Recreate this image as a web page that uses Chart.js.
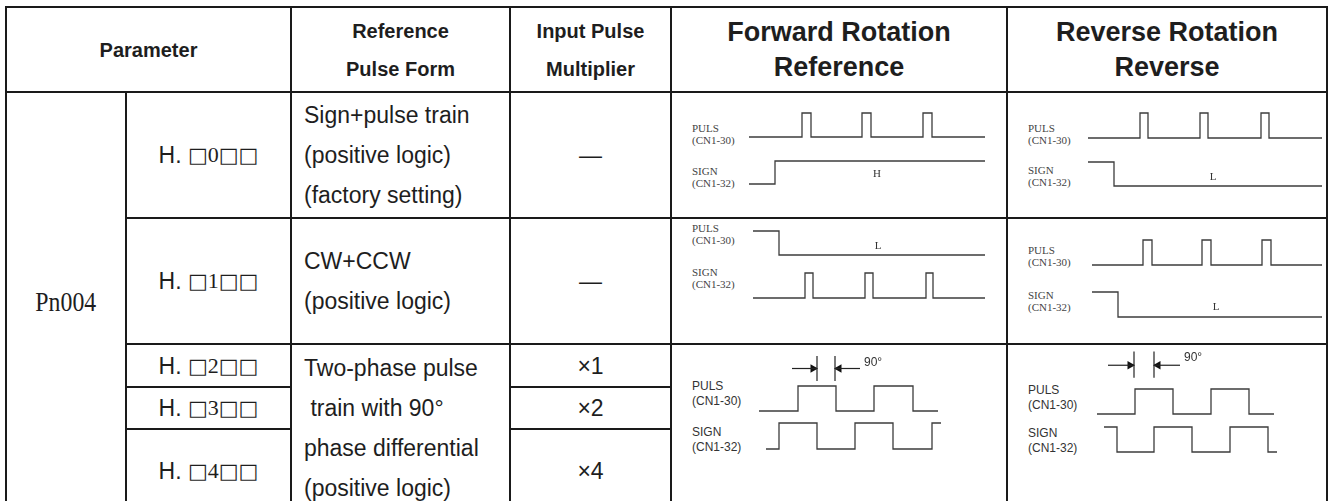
<!DOCTYPE html>
<html lang="en">
<head>
<meta charset="UTF-8">
<title>Pn004 Reference Pulse Form</title>
<script src="https://cdn.jsdelivr.net/npm/chart.js"></script>
<style>
  html, body { margin: 0; padding: 0; background: #fff; }
  body { width: 1332px; height: 501px; overflow: hidden; position: relative;
         font-family: "Liberation Sans", Arial, sans-serif; color: #1e1e1e; }
  #grid { position: absolute; left: 5px; top: 6px; display: grid; background: #1a1a1a; padding: 2px; gap: 2px;
          grid-template-columns: 118px 163px 217px 159px 334px 318px;
          grid-template-rows: 83px 124px 124px 41px 40px 81px; }
  #grid > div { background: #fff; display: flex; align-items: center; justify-content: center; text-align: center; }
  .hd { font-weight: bold; font-size: 20px; line-height: 38px; }
  .big { font-size: 27px; line-height: 35px; }
  .txt { font-size: 23px; line-height: 40px; }
  #grid > div.form { justify-content: flex-start; text-align: left; padding-left: 12px; }
  .pn { font-family: "Liberation Serif", serif; font-size: 28px; }
  .pn span { display: inline-block; transform: scaleX(0.85); }
  .box { font-family: "DejaVu Sans", sans-serif; font-size: 21px; color: #1e1e1e; }
  .dg { font-family: "Liberation Serif", serif; font-size: 22px; }
  #waves { position: absolute; left: 0; top: 0; }
  #waves canvas, #waves .lbl { position: absolute; }
  .lbl { font-family: "Liberation Serif", serif; font-size: 11px; line-height: 12px; color: #444; white-space: nowrap; }
  .lbl.sans { font-family: "Liberation Sans", sans-serif; font-size: 12px; line-height: 15px; color: #333; }
</style>
</head>
<body>
<div id="grid">
  <div class="hd" style="grid-column:1/3;grid-row:1">Parameter</div>
  <div class="hd" style="grid-column:3;grid-row:1">Reference<br>Pulse Form</div>
  <div class="hd" style="grid-column:4;grid-row:1">Input Pulse<br>Multiplier</div>
  <div class="hd big" style="grid-column:5;grid-row:1">Forward Rotation<br>Reference</div>
  <div class="hd big" style="grid-column:6;grid-row:1">Reverse Rotation<br>Reverse</div>

  <div class="pn" style="grid-column:1;grid-row:2/7"><span>Pn004</span></div>

  <div class="txt" style="grid-column:2;grid-row:2">H.&nbsp;<span class="box">□</span><span class="dg">0</span><span class="box">□□</span></div>
  <div class="txt form" style="grid-column:3;grid-row:2">Sign+pulse train<br>(positive logic)<br>(factory setting)</div>
  <div class="txt" style="grid-column:4;grid-row:2">—</div>
  <div style="grid-column:5;grid-row:2"></div>
  <div style="grid-column:6;grid-row:2"></div>

  <div class="txt" style="grid-column:2;grid-row:3">H.&nbsp;<span class="box">□</span><span class="dg">1</span><span class="box">□□</span></div>
  <div class="txt form" style="grid-column:3;grid-row:3">CW+CCW<br>(positive logic)</div>
  <div class="txt" style="grid-column:4;grid-row:3">—</div>
  <div style="grid-column:5;grid-row:3"></div>
  <div style="grid-column:6;grid-row:3"></div>

  <div class="txt" style="grid-column:2;grid-row:4">H.&nbsp;<span class="box">□</span><span class="dg">2</span><span class="box">□□</span></div>
  <div class="txt" style="grid-column:2;grid-row:5">H.&nbsp;<span class="box">□</span><span class="dg">3</span><span class="box">□□</span></div>
  <div class="txt" style="grid-column:2;grid-row:6">H.&nbsp;<span class="box">□</span><span class="dg">4</span><span class="box">□□</span></div>
  <div class="txt form" style="grid-column:3;grid-row:4/7">Two-phase pulse<br>&nbsp;train with 90°<br>phase differential<br>(positive logic)</div>
  <div class="txt" style="grid-column:4;grid-row:4">×1</div>
  <div class="txt" style="grid-column:4;grid-row:5">×2</div>
  <div class="txt" style="grid-column:4;grid-row:6">×4</div>
  <div style="grid-column:5;grid-row:4/7"></div>
  <div style="grid-column:6;grid-row:4/7"></div>
</div>
<div id="waves"></div>

<script>
// edge times (time units) and the logic level after each edge
const fwd1PulsT = [0, 53, 62, 113, 122, 174, 183, 236];
const fwd1PulsV = [0, 1, 0, 1, 0, 1, 0, 0];
const fwd1SignT = [0, 26, 236];
const fwd1SignV = [0, 1, 1];

const rev1PulsT = [0, 52, 60, 112, 120, 173, 181, 234];
const rev1PulsV = [0, 1, 0, 1, 0, 1, 0, 0];
const rev1SignT = [0, 26, 234];
const rev1SignV = [1, 0, 0];

const fwd2PulsT = [0, 26, 232];
const fwd2PulsV = [1, 0, 0];
const fwd2SignT = [0, 52, 60, 112, 120, 173, 180, 232];
const fwd2SignV = [0, 1, 0, 1, 0, 1, 0, 0];

const rev2PulsT = [0, 51, 60, 110, 119, 170, 179, 230];
const rev2PulsV = [0, 1, 0, 1, 0, 1, 0, 0];
const rev2SignT = [0, 26, 230];
const rev2SignV = [1, 0, 0];

const fwd3PulsT = [0, 39, 77, 115, 154, 179];
const fwd3PulsV = [0, 1, 0, 1, 0, 0];
const fwd3SignT = [7, 20, 58, 96, 134, 173, 182];
const fwd3SignV = [0, 1, 0, 1, 0, 1, 1];

const rev3PulsT = [0, 38, 76, 114, 152, 177];
const rev3PulsV = [0, 1, 0, 1, 0, 0];
const rev3SignT = [7, 20, 57, 95, 133, 171, 180];
const rev3SignV = [1, 0, 1, 0, 1, 0, 0];

// 90 degree marker: line start, first tick, second tick, line end
const fwd3Marker = [33, 58, 76, 101];
const rev3Marker = [11, 37, 57, 83];

const signalNames = ['PULS', 'SIGN'];
const pinNames = ['(CN1-30)', '(CN1-32)'];

const PAD = 5;
const INK = '#3c3c3c';

const notePlugin = {
  id: 'notes',
  afterDatasetsDraw(chart, args, opts) {
    const ctx = chart.ctx;
    ctx.save();
    ctx.fillStyle = '#333';
    ctx.font = opts.font || '11px "Liberation Serif"';
    ctx.textBaseline = 'middle';
    (opts.items || []).forEach(n => {
      ctx.textAlign = n.align || 'center';
      ctx.fillText(n.text, chart.scales.x.getPixelForValue(n.t), chart.scales.y.getPixelForValue(n.y));
    });
    ctx.restore();
  }
};

function wave(t, v) {
  return { data: t.map((x, i) => ({ x: x, y: v[i] })), stepped: true, borderColor: INK,
           borderWidth: 1.3, pointRadius: 0, fill: false, clip: false };
}

function markerSets(m, level, lo, hi) {
  const seg = pts => ({ data: pts, borderColor: '#222', borderWidth: 1.2, pointRadius: 0, fill: false, clip: false });
  return [
    seg([{ x: m[0], y: level }, { x: m[1], y: level }]),
    seg([{ x: m[2], y: level }, { x: m[3], y: level }]),
    seg([{ x: m[1], y: lo }, { x: m[1], y: hi }]),
    seg([{ x: m[2], y: lo }, { x: m[2], y: hi }]),
    { data: [{ x: m[1] - 4, y: level }, { x: m[2] + 4, y: level }], showLine: false,
      pointStyle: 'triangle', pointRotation: [90, -90], pointRadius: 5, borderWidth: 0,
      backgroundColor: '#111', clip: false }
  ];
}

// layout: chart area left edge, y of the high level, pixels per level step
const waves = [
  { t: fwd1PulsT, v: fwd1PulsV, left: 749, high: 113, swing: 24 },
  { t: fwd1SignT, v: fwd1SignV, left: 749, high: 161, swing: 23, notes: [{ text: 'H', t: 128, y: 0.45 }] },
  { t: rev1PulsT, v: rev1PulsV, left: 1088, high: 113, swing: 25 },
  { t: rev1SignT, v: rev1SignV, left: 1088, high: 162, swing: 24, notes: [{ text: 'L', t: 125, y: 0.38 }] },
  { t: fwd2PulsT, v: fwd2PulsV, left: 753, high: 231, swing: 24, notes: [{ text: 'L', t: 125, y: 0.38 }] },
  { t: fwd2SignT, v: fwd2SignV, left: 753, high: 273, swing: 25 },
  { t: rev2PulsT, v: rev2PulsV, left: 1092, high: 240, swing: 25 },
  { t: rev2SignT, v: rev2SignV, left: 1092, high: 292, swing: 25, notes: [{ text: 'L', t: 124, y: 0.4 }] },
  { t: fwd3PulsT, v: fwd3PulsV, left: 759, high: 386, swing: 25, yMax: 2.6,
    extra: markerSets(fwd3Marker, 1.7, 1.2, 2.2), font: '12px "Liberation Sans"',
    notes: [{ text: '90°', t: 105, y: 1.92, align: 'left' }] },
  { t: fwd3SignT, v: fwd3SignV, left: 766, high: 423, swing: 26 },
  { t: rev3PulsT, v: rev3PulsV, left: 1097, high: 389, swing: 25, yMax: 2.6,
    extra: markerSets(rev3Marker, 1.95, 1.45, 2.5), font: '12px "Liberation Sans"',
    notes: [{ text: '90°', t: 87, y: 2.24, align: 'left' }] },
  { t: rev3SignT, v: rev3SignV, left: 1104, high: 427, swing: 25 }
];

// layout: signal name blocks (x, centre of each two-line label)
const labels = [
  { x: 692, y: [134, 177] }, { x: 1028, y: [134, 176] },
  { x: 692, y: [234, 278] }, { x: 1028, y: [256, 301] },
  { x: 692, y: [394, 440], sans: true }, { x: 1028, y: [398, 441], sans: true }
];

const host = document.getElementById('waves');

waves.forEach(w => {
  const tMin = w.t[0], tMax = w.t[w.t.length - 1];
  const yMax = w.yMax || 1;
  const c = document.createElement('canvas');
  c.width = (tMax - tMin) + PAD * 2;
  c.height = Math.round(w.swing * yMax) + PAD * 2;
  c.style.left = (w.left - PAD) + 'px';
  c.style.top = (w.high - w.swing * (yMax - 1) - PAD) + 'px';
  host.appendChild(c);
  new Chart(c, {
    type: 'line',
    data: { datasets: [wave(w.t, w.v)].concat(w.extra || []) },
    options: {
      responsive: false,
      animation: false,
      events: [],
      layout: { padding: PAD },
      plugins: {
        legend: { display: false },
        tooltip: { enabled: false },
        notes: { items: w.notes || [], font: w.font }
      },
      scales: {
        x: { type: 'linear', display: false, min: tMin, max: tMax },
        y: { display: false, min: 0, max: yMax }
      }
    },
    plugins: [notePlugin]
  });
});

labels.forEach(l => {
  const lh = l.sans ? 15 : 12;
  signalNames.forEach((name, i) => {
    const d = document.createElement('div');
    d.className = 'lbl' + (l.sans ? ' sans' : '');
    d.innerHTML = name + '<br>' + pinNames[i];
    d.style.left = l.x + 'px';
    d.style.top = (l.y[i] - lh) + 'px';
    host.appendChild(d);
  });
});
</script>
</body>
</html>
